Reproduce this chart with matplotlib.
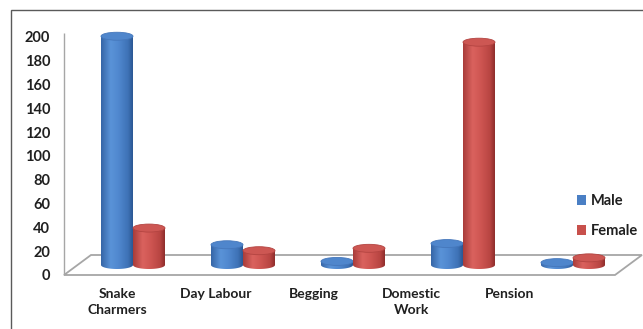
import numpy as np
import matplotlib
matplotlib.use("Agg")
import matplotlib.pyplot as plt
from matplotlib.patches import Ellipse, PathPatch, Polygon, Rectangle, Patch
from matplotlib.path import Path
from matplotlib.colors import LinearSegmentedColormap

# ---------------- data ----------------
categories = ["Snake\nCharmers", "Day Labour", "Begging", "Domestic\nWork", "Pension"]
male = [192, 17, 3, 18, 2]
female = [31, 12, 14, 187, 6]
series_names = ["Male", "Female"]
yticks = [0, 20, 40, 60, 80, 100, 120, 140, 160, 180, 200]

# ---------------- styling ----------------
W, H = 643, 329
DPI = 100
plt.rcParams["font.family"] = ["Lato", "DejaVu Sans"]
plt.rcParams["font.weight"] = "bold"
TXT = "#202020"

fig = plt.figure(figsize=(W / DPI, H / DPI), dpi=DPI)
fig.patch.set_facecolor("white")

# pixel anchors (from top-left)
y0_px, y200_px = 275.0, 36.7
k = (y0_px - y200_px) / 200.0          # px per unit
ylo, yhi = -8, 205
ax_bot_px = y0_px - ylo * k
ax_top_px = y0_px - yhi * k
ax_left_px, ax_right_px = 64.0, 640.0
pos = [ax_left_px / W, (H - ax_bot_px) / H, (ax_right_px - ax_left_px) / W, (ax_bot_px - ax_top_px) / H]

# label axes (category labels sit on a slightly different perspective scale)
lab0_px, lab_step = 117.0, 98.25
ax2 = fig.add_axes(pos, frameon=False)
ax2.set_xlim((ax_left_px - lab0_px) / lab_step, (ax_right_px - lab0_px) / lab_step)
ax2.set_ylim(ylo, yhi)
ax2.set_yticks([])
ax2.set_xticks(range(len(categories)))
ax2.set_xticklabels(categories, fontsize=10, fontweight="bold", color=TXT, linespacing=1.4)
ax2.tick_params(axis="x", length=0, pad=2.5)

# bars axes
bar0_px, bar_step = 133.0, 110.0
ax = fig.add_axes(pos)
ax.patch.set_visible(False)
for s in ax.spines.values():
    s.set_visible(False)
xl = (ax_left_px - bar0_px) / bar_step
xr = (ax_right_px - bar0_px) / bar_step

# floor (3D base)
depth_dx = 27.0 / bar_step
depth_dy = 20.0 / k
x_front_right = (615.0 - bar0_px) / bar_step
floor = Polygon([(xl, 0), (x_front_right, 0), (x_front_right + depth_dx, depth_dy), (xl + depth_dx, depth_dy)],
                closed=True, facecolor="white", edgecolor="#a6a6a6", lw=1.3, zorder=1, clip_on=False)
ax.add_patch(floor)
# value axis line
ax.plot([xl, xl], [0, 203], color="#a6a6a6", lw=1.0, zorder=1, clip_on=False, solid_capstyle="butt")

ax.set_yticks(yticks)
ax.set_yticklabels([str(t) for t in yticks], fontsize=10.5, fontweight="bold", color=TXT)
ax.tick_params(axis="y", length=0, pad=10)
ax.set_xticks([])

blue_cmap = LinearSegmentedColormap.from_list(
    "b", [(0, "#3565a6"), (0.3, "#5a93d8"), (0.55, "#5088cf"), (0.85, "#3e72b6"), (1, "#2b5793")])
red_cmap = LinearSegmentedColormap.from_list(
    "r", [(0, "#a83c3a"), (0.3, "#da625e"), (0.55, "#cf5652"), (0.85, "#b84542"), (1, "#8e2d2b")])
tops = {"Male": ("#4f86cc", "#4577bb"), "Female": ("#cd5753", "#b34441")}

bw = 32.0 / bar_step
eh = 8.0 / k
base = depth_dy / 2.0
grad = np.linspace(0, 1, 128)[None, :]


def cylinder(cx, v, cmap, topc, z):
    x0, x1 = cx - bw / 2, cx + bw / 2
    top = base + v
    t = np.linspace(np.pi, 2 * np.pi, 40)
    ex = cx + (bw / 2) * np.cos(t)
    ey = base + (eh / 2) * np.sin(t)
    verts = [(x0, top)] + list(zip(ex, ey)) + [(x1, top), (x0, top)]
    codes = [Path.MOVETO] + [Path.LINETO] * (len(verts) - 2) + [Path.CLOSEPOLY]
    clip = PathPatch(Path(verts, codes), facecolor="none", edgecolor="none", transform=ax.transData)
    ax.add_patch(clip)
    im = ax.imshow(grad, extent=(x0, x1, base - eh / 2, top), cmap=cmap, aspect="auto",
                   interpolation="bilinear", zorder=z)
    im.set_clip_path(clip)
    ax.add_patch(Ellipse((cx, top), bw, eh, facecolor=topc[0], edgecolor=topc[1], lw=0.6, zorder=z + 0.1))


for i in range(len(categories)):
    cylinder(i - bw / 2, male[i], blue_cmap, tops["Male"], 3 + i)
    cylinder(i + bw / 2, female[i], red_cmap, tops["Female"], 3.5 + i)

ax.set_xlim(xl, xr)
ax.set_ylim(ylo, yhi)

# legend
handles = [Patch(facecolor="#4a7fc4"), Patch(facecolor="#c8504c")]
leg = fig.legend(handles, series_names, loc="upper left", bbox_to_anchor=(577 / W, 1 - 194 / H),
                 frameon=False, borderpad=0, handlelength=0.62, handleheight=0.62, handletextpad=0.3,
                 labelspacing=1.1, prop={"size": 10.5, "weight": "bold"}, borderaxespad=0)
for t in leg.get_texts():
    t.set_color(TXT)

# outer chart border
fig.add_artist(Rectangle((11 / W, -0.1), 1.2, (H - 10) / H + 0.1, transform=fig.transFigure,
                         fill=False, edgecolor="#5a5a5a", lw=1.0))

fig.savefig("out.png", dpi=DPI, facecolor="white")
